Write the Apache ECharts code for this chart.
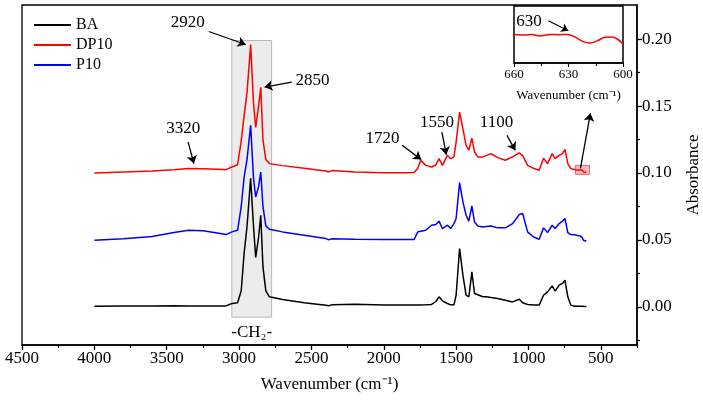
<!DOCTYPE html>
<html>
<head>
<meta charset="utf-8">
<script src="https://cdn.jsdelivr.net/npm/echarts@6/dist/echarts.min.js"></script>
<style>
  html, body { margin: 0; padding: 0; background: #fff; }
  #chart { width: 703px; height: 405px; }
</style>
</head>
<body>
<div id="chart"></div>
<script>
// FTIR spectra, wavenumber (cm-1) vs absorbance
var wavenumbers = [4000, 3800, 3600, 3450, 3350, 3250, 3150, 3090, 3050, 3010,
  2985, 2965, 2945, 2920, 2900, 2885, 2865, 2850, 2835, 2815,
  2790, 2700, 2550, 2400, 2380, 2360, 2200, 2000, 1850, 1790,
  1765, 1745, 1710, 1670, 1640, 1618, 1595, 1560, 1538, 1515,
  1500, 1476, 1453, 1431, 1412, 1391, 1373, 1350, 1316, 1293,
  1259, 1247, 1213, 1160, 1110, 1063, 1040, 1006, 965, 926,
  896, 868, 836, 816, 788, 765, 748, 728, 708, 680,
  660, 645, 630, 620, 607, 600];
var baAbs = [0.0005, 0.0006, 0.0007, 0.0008, 0.0006, 0.0007, 0.0006, 0.0007, 0.0025, 0.0030,
  0.0120, 0.0400, 0.0600, 0.0960, 0.0600, 0.0370, 0.0520, 0.0684, 0.0300, 0.0120,
  0.0075, 0.0055, 0.0030, 0.0012, 0.0008, 0.0015, 0.0020, 0.0013, 0.0013, 0.0013,
  0.0013, 0.0013, 0.0015, 0.0018, 0.0040, 0.0075, 0.0045, 0.0025, 0.0015, 0.0015,
  0.0087, 0.0436, 0.0237, 0.0087, 0.0075, 0.0261, 0.0100, 0.0090, 0.0075, 0.0075,
  0.0070, 0.0070, 0.0063, 0.0050, 0.0037, 0.0057, 0.0030, 0.0018, 0.0013, 0.0013,
  0.0087, 0.0112, 0.0157, 0.0117, 0.0162, 0.0175, 0.0199, 0.0075, 0.0013, 0.0005,
  0.0005, 0.0004, 0.0004, 0.0003, 0.0003, 0.0003];
var dp10Abs = [0.1000, 0.1008, 0.1015, 0.1025, 0.1033, 0.1032, 0.1028, 0.1025, 0.1045, 0.1062,
  0.1240, 0.1430, 0.1600, 0.1960, 0.1520, 0.1340, 0.1500, 0.1640, 0.1250, 0.1100,
  0.1070, 0.1055, 0.1035, 0.1015, 0.1008, 0.1018, 0.1008, 0.1002, 0.1002, 0.1003,
  0.1035, 0.1095, 0.1057, 0.1045, 0.1060, 0.1107, 0.1057, 0.1132, 0.1107, 0.1120,
  0.1230, 0.1455, 0.1330, 0.1207, 0.1170, 0.1260, 0.1157, 0.1120, 0.1120, 0.1130,
  0.1145, 0.1157, 0.1115, 0.1095, 0.1120, 0.1150, 0.1130, 0.1057, 0.1035, 0.1020,
  0.1110, 0.1070, 0.1145, 0.1107, 0.1132, 0.1145, 0.1177, 0.1070, 0.1033, 0.1025,
  0.1022, 0.1023, 0.1023, 0.1008, 0.1018, 0.1005];
var p10Abs = [0.0498, 0.0508, 0.0525, 0.0555, 0.0572, 0.0568, 0.0552, 0.0540, 0.0560, 0.0572,
  0.0750, 0.0970, 0.1100, 0.1356, 0.0960, 0.0820, 0.0900, 0.1007, 0.0750, 0.0605,
  0.0580, 0.0560, 0.0535, 0.0510, 0.0500, 0.0508, 0.0505, 0.0503, 0.0503, 0.0503,
  0.0560, 0.0565, 0.0572, 0.0610, 0.0615, 0.0640, 0.0585, 0.0610, 0.0585, 0.0622,
  0.0660, 0.0928, 0.0784, 0.0684, 0.0640, 0.0754, 0.0634, 0.0604, 0.0597, 0.0600,
  0.0604, 0.0600, 0.0590, 0.0590, 0.0622, 0.0690, 0.0697, 0.0560, 0.0522, 0.0505,
  0.0590, 0.0555, 0.0610, 0.0585, 0.0622, 0.0640, 0.0660, 0.0555, 0.0540, 0.0538,
  0.0533, 0.0530, 0.0520, 0.0498, 0.0495, 0.0490];

// inset: DP10 between 660 and 600
var insetWn = [660, 655, 650, 646, 640, 635, 631, 627, 622, 618, 614, 610, 606, 603, 600];
var insetAbs = [0.1020, 0.10195, 0.1020, 0.10185, 0.1020, 0.10198, 0.1020, 0.1018, 0.10125, 0.1011, 0.10135, 0.1017, 0.10175, 0.1015, 0.1010];

var xTicks = [4500, 4000, 3500, 3000, 2500, 2000, 1500, 1000, 500];
var xMinorTicks = [4250, 3750, 3250, 2750, 2250, 1750, 1250, 750, 250];
var yTicks = [0, 0.05, 0.1, 0.15, 0.2];
var yMinorTicks = [-0.025, 0.025, 0.075, 0.125, 0.175];

// annotations in data units [wavenumber, absorbance]
var peakLabels = [
  { text: '2920', at: [3354, 0.2125] },
  { text: '2850', at: [2493, 0.1692] },
  { text: '3320', at: [3385, 0.1334] },
  { text: '1720', at: [2008, 0.1257] },
  { text: '1550', at: [1632, 0.1380] },
  { text: '1100', at: [1221, 0.1380] },
  { text: '-CH\u2082-', at: [2913, -0.0189] }
];
var peakArrows = [
  [[3209, 0.2057], [2954, 0.1960]],
  [[2636, 0.1679], [2824, 0.1642]],
  [[3352, 0.1231], [3312, 0.1070]],
  [[1873, 0.1207], [1741, 0.1100]],
  [[1598, 0.1306], [1568, 0.1137]],
  [[1149, 0.1281], [1091, 0.1169]],
  [[641, 0.1035], [572, 0.1446]]
];
var ch2Band = [[3050, -0.0077], [2775, 0.199]];
var zoomBox = [[676, 0.0990], [579, 0.1057]];

var chart = echarts.init(document.getElementById('chart'), null, { renderer: 'canvas' });
var font = 'Liberation Serif';

function pairs(ys) {
  return wavenumbers.map(function (w, i) { return [w, ys[i]]; });
}

var option = {
  animation: false,
  backgroundColor: '#fff',
  textStyle: { fontFamily: font, color: '#000' },
  legend: {
    data: ['BA', 'DP10', 'P10'],
    orient: 'vertical',
    left: 29,
    top: 12,
    icon: 'rect',
    itemWidth: 37,
    itemHeight: 2,
    itemGap: 4,
    textStyle: { fontFamily: font, fontSize: 16, color: '#000', lineHeight: 16 }
  },
  grid: [
    { left: 22, right: 66, top: 5, bottom: 60, outerBoundsMode: 'none', show: true, borderColor: '#000', borderWidth: 1.3 },
    { left: 514, right: 80, top: 6, height: 57, outerBoundsMode: 'none', show: true, borderColor: '#000', borderWidth: 1.5, backgroundColor: '#fff', z: 5 }
  ],
  xAxis: [
    {
      type: 'value', gridIndex: 0, min: 250, max: 4500, inverse: true,
      name: 'Wavenumber (cm\u207B\u00B9)', nameLocation: 'middle', nameGap: 31,
      nameTextStyle: { fontFamily: font, fontSize: 17, color: '#000' },
      axisLine: { onZero: false, lineStyle: { color: '#000', width: 1.5 } },
      axisTick: { customValues: xTicks, length: 5, lineStyle: { color: '#000', width: 1.3 } },
      axisLabel: { customValues: xTicks, fontFamily: font, fontSize: 17, color: '#000', margin: 5,
        formatter: function (v) { return String(v); } },
      splitLine: { show: false }
    },
    {
      type: 'value', gridIndex: 0, min: 250, max: 4500, inverse: true, position: 'bottom',
      axisLine: { show: false, onZero: false },
      axisTick: { customValues: xMinorTicks, length: 3, lineStyle: { color: '#000', width: 1.2 } },
      axisLabel: { show: false },
      splitLine: { show: false }
    },
    {
      type: 'value', gridIndex: 1, min: 600, max: 660, interval: 30, inverse: true,
      name: 'Wavenumber (cm\u207B\u00B9)', nameLocation: 'middle', nameGap: 26,
      nameTextStyle: { fontFamily: font, fontSize: 13, color: '#000' },
      axisLine: { onZero: false, lineStyle: { color: '#000', width: 1.5 } },
      axisTick: { length: 4, lineStyle: { color: '#000' } },
      minorTick: { show: true, splitNumber: 2, length: 3, lineStyle: { color: '#000' } },
      axisLabel: { fontFamily: font, fontSize: 13, color: '#000', margin: 5 },
      splitLine: { show: false }, z: 6
    }
  ],
  yAxis: [
    {
      type: 'value', gridIndex: 0, position: 'right', min: -0.0285, max: 0.2255,
      name: 'Absorbance', nameLocation: 'middle', nameGap: 48, nameRotate: 90,
      nameTextStyle: { fontFamily: font, fontSize: 17, color: '#000' },
      axisLine: { show: true, onZero: false, lineStyle: { color: '#000', width: 1.5 } },
      axisTick: { show: true, customValues: yTicks, length: 5, lineStyle: { color: '#000', width: 1.3 } },
      axisLabel: { customValues: yTicks, fontFamily: font, fontSize: 17, color: '#000', margin: 5,
        formatter: function (v) { return v.toFixed(2); } },
      splitLine: { show: false }
    },
    {
      type: 'value', gridIndex: 0, position: 'right', min: -0.0285, max: 0.2255,
      axisLine: { show: false, onZero: false },
      axisTick: { show: true, customValues: yMinorTicks, length: 3, lineStyle: { color: '#000', width: 1.2 } },
      axisLabel: { show: false },
      splitLine: { show: false }
    },
    {
      type: 'value', gridIndex: 1, min: 0.099, max: 0.105, show: false
    }
  ],
  series: [
    {
      name: 'BA', type: 'line', data: pairs(baAbs), symbol: 'none',
      lineStyle: { color: '#000', width: 1.5 }, itemStyle: { color: '#000' }, z: 3,
      markArea: {
        silent: true,
        itemStyle: { color: 'rgba(200,200,200,0.35)', borderColor: '#b8b8b8', borderWidth: 1 },
        data: [[{ coord: ch2Band[0] }, { coord: ch2Band[1] }]]
      }
    },
    {
      name: 'DP10', type: 'line', data: pairs(dp10Abs), symbol: 'none',
      lineStyle: { color: '#ff0000', width: 1.5 }, itemStyle: { color: '#ff0000' }, z: 3,
      markArea: {
        silent: true,
        itemStyle: { color: 'rgba(240,110,120,0.45)', borderColor: '#e06070', borderWidth: 1 },
        data: [[{ coord: zoomBox[0] }, { coord: zoomBox[1] }]]
      },
      markLine: {
        silent: true, animation: false,
        symbol: ['none', 'arrow'], symbolSize: 8,
        lineStyle: { color: '#000', width: 1.3, type: 'solid' },
        label: { show: false },
        data: peakArrows.map(function (a) { return [{ coord: a[0] }, { coord: a[1] }]; })
      },
      markPoint: {
        silent: true, symbol: 'circle', symbolSize: 0,
        label: { show: true, position: 'inside', fontFamily: font, fontSize: 17, color: '#000',
          formatter: function (p) { return p.name; } },
        data: peakLabels.map(function (l) { return { name: l.text, coord: l.at }; })
      }
    },
    {
      name: 'P10', type: 'line', data: pairs(p10Abs), symbol: 'none',
      lineStyle: { color: '#0000ff', width: 1.5 }, itemStyle: { color: '#0000ff' }, z: 3
    },
    {
      name: 'DP10 inset', type: 'line', xAxisIndex: 2, yAxisIndex: 2, z: 7,
      data: insetWn.map(function (w, i) { return [w, insetAbs[i]]; }),
      symbol: 'none', smooth: 0.3,
      lineStyle: { color: '#ff0000', width: 1.5 },
      markLine: {
        silent: true, symbol: ['none', 'arrow'], symbolSize: 7,
        lineStyle: { color: '#000', width: 1.2, type: 'solid' },
        label: { show: false },
        data: [[{ coord: [641.1, 0.10345] }, { coord: [630.1, 0.1024] }]]
      },
      markPoint: {
        silent: true, symbol: 'circle', symbolSize: 0,
        label: { show: true, position: 'inside', fontFamily: font, fontSize: 17, color: '#000',
          formatter: function (p) { return p.name; } },
        data: [{ name: '630', coord: [651.7, 0.10332] }]
      }
    }
  ]
};
chart.setOption(option);
</script>
</body>
</html>
